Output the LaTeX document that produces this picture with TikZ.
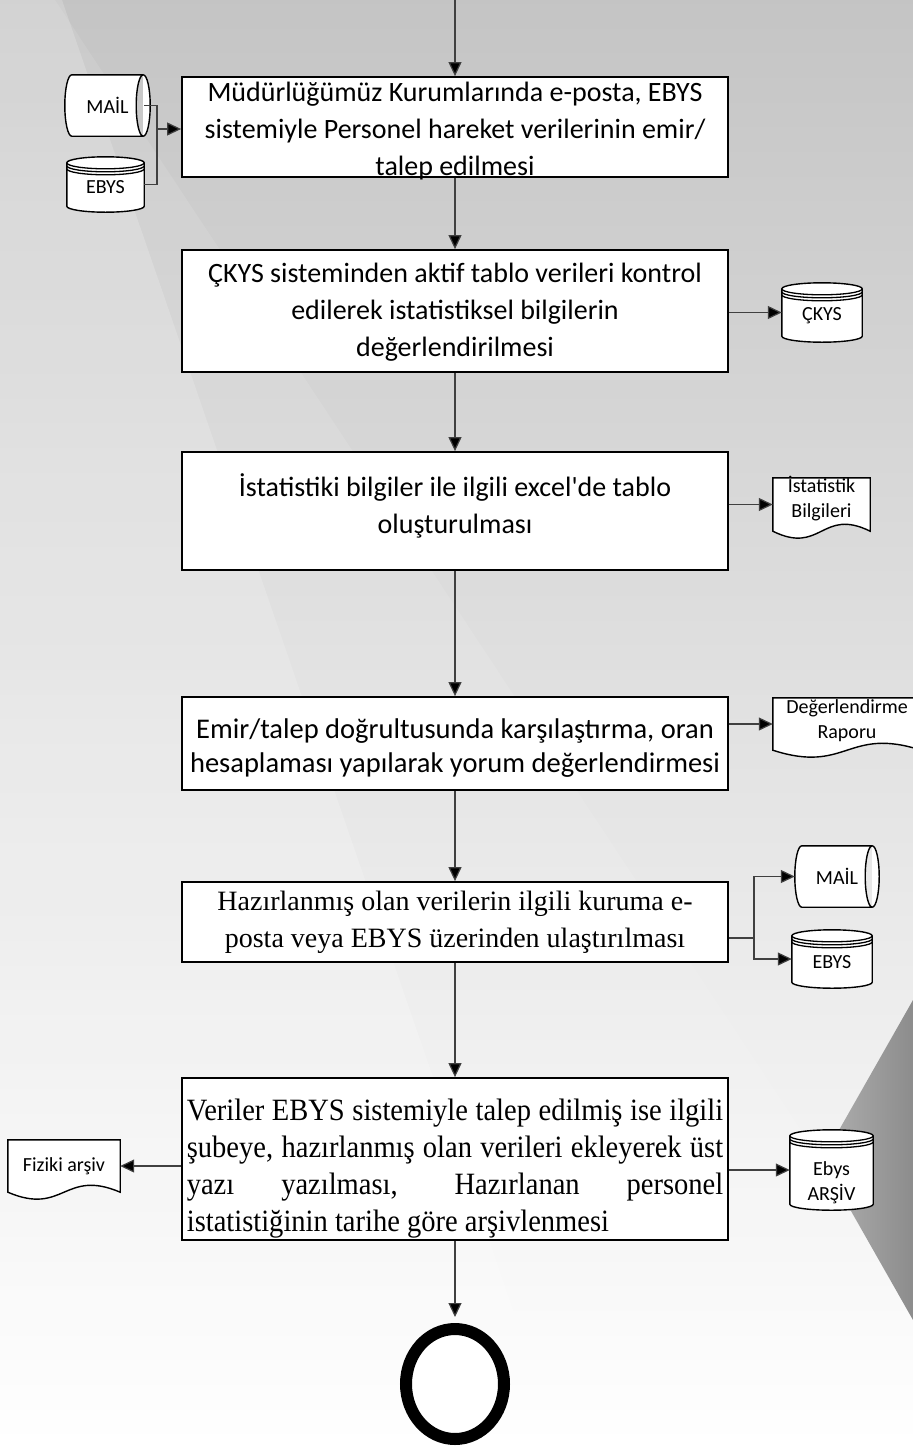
\documentclass[tikz,border=0pt]{standalone}
\usepackage{fontspec}
\usepackage{graphicx}
\setmainfont{Carlito}
\newfontfamily\tnr{Liberation Serif}
\usetikzlibrary{arrows.meta,shapes.geometric,calc}

\pgfdeclarelayer{backdrop}
\pgfdeclarelayer{outline}
\pgfsetlayers{backdrop,outline,main}

% text helpers
\newcommand\dropby[2]{\raisebox{-#1}[\height][\depth]{#2}}
\newcommand\stack[1]{\begin{tabular}{@{}c@{}}#1\end{tabular}}
\newcommand\jline[1]{\makebox[583pt][s]{#1}}

\tikzset{
  procbox/.style={draw=black, line width=1.8pt, fill=white, minimum width=546pt,
    inner sep=0pt, align=center, font=\fontsize{28}{37}\selectfont},
  serifbox/.style={procbox, font=\tnr\fontsize{28}{37}\selectfont},
  flow/.style={draw=black!75, line width=1.2pt, -{Triangle[length=14pt,width=13pt,fill=black]}},
  link/.style={draw=black!75, line width=1.2pt},
  symbol/.style={inner sep=0pt, align=center, font=\fontsize{20}{25}\selectfont},
  outl/.style={draw=black, line width=1.4pt, fill=white},
}

% stored data: cylinder with stacked rings on top
\newcommand\storeshape[1]{%
  \begin{pgfonlayer}{outline}
    \path[outl] let \p1=(#1.north west), \p2=(#1.south east), \n1={(\x2-\x1)/2} in
      (\x1,\y1-6pt) arc[start angle=180,end angle=0,x radius=\n1*1pt,y radius=6pt]
      -- (\x2,\y2+6pt) arc[start angle=0,end angle=-180,x radius=\n1*1pt,y radius=6pt] -- cycle;
    \path[draw=black,line width=1.3pt] let \p1=(#1.north west), \p2=(#1.south east), \n1={(\x2-\x1)/2} in
      (\x1,\y1-6pt) arc[start angle=180,end angle=360,x radius=\n1*1pt,y radius=6pt]
      (\x1,\y1-9pt) arc[start angle=180,end angle=360,x radius=\n1*1pt,y radius=6pt]
      (\x1,\y1-12pt) arc[start angle=180,end angle=360,x radius=\n1*1pt,y radius=6pt];
  \end{pgfonlayer}}

% direct access storage: horizontal cylinder
\newcommand\diskshape[1]{%
  \begin{pgfonlayer}{outline}
    \path[outl] let \p1=(#1.north west), \p2=(#1.south east), \n1={(\y1-\y2)/2} in
      (\x1+7pt,\y1) -- (\x2-7pt,\y1) arc[start angle=90,end angle=-90,x radius=7pt,y radius=\n1*1pt]
      -- (\x1+7pt,\y2) arc[start angle=270,end angle=90,x radius=7pt,y radius=\n1*1pt] -- cycle
      (\x2-7pt,\y1) arc[start angle=90,end angle=270,x radius=7pt,y radius=\n1*1pt];
  \end{pgfonlayer}}

% document: rectangle with a wavy lower edge
\newcommand\docshape[1]{%
  \begin{pgfonlayer}{outline}
    \path[outl] let \p1=(#1.north west), \p2=(#1.south east),
        \p3=($(#1.south west)!0.5!(#1.south east)$) in
      (\x1,\y1) -- (\x2,\y1) -- (\x2,\y2)
      .. controls (\x3,\y2+24pt) and (\x3,\y2-24pt) .. (\x1,\y2) -- cycle;
  \end{pgfonlayer}}

\begin{document}
\begin{tikzpicture}[x=1pt,y=-1pt]
\useasboundingbox (0,0) rectangle (913,1446);
\clip (0,0) rectangle (913,1446);

% backdrop: grey-to-white fade with light and dark facets
\begin{pgfonlayer}{backdrop}
  \shade[top color=gray!46, bottom color=white] (0,0) rectangle (913,1446);
  \fill[white, opacity=0.18] (0,0) -- (62,0) -- (560,1446) -- (0,1446) -- cycle;
  \fill[white, opacity=0.10] (55,0) -- (913,1300) -- (913,1446) -- (0,1446) -- (0,0) -- cycle;
  \shade[left color=gray!62, right color=gray!90] (913,1000) -- (822,1160) -- (913,1320) -- cycle;
\end{pgfonlayer}

% process boxes
\node[procbox, minimum height=100pt] (b1) at (455,127)
  {\raisebox{-10pt}[0pt][0pt]{\stack{Müdürlüğümüz Kurumlarında e-posta, EBYS\\sistemiyle Personel hareket verilerinin emir/\\talep edilmesi}}};
\node[procbox, minimum height=122pt] (b2) at (455,311)
  {\dropby{1pt}{\stack{ÇKYS sisteminden aktif tablo verileri kontrol\\edilerek istatistiksel bilgilerin\\değerlendirilmesi}}};
\node[procbox, minimum height=118pt] (b3) at (455,511)
  {\dropby{-3pt}{\stack{İstatistiki bilgiler ile ilgili excel\textquotesingle de tablo\\oluşturulması}}};
\node[procbox, minimum height=93pt, font=\fontsize{28.5}{34}\selectfont] (b4) at (455,743.5)
  {\dropby{5pt}{\stack{Emir/talep doğrultusunda karşılaştırma, oran\\hesaplaması yapılarak yorum değerlendirmesi}}};
\node[serifbox, minimum height=80pt] (b5) at (455,922)
  {\stack{Hazırlanmış olan verilerin ilgili kuruma e-\\posta veya EBYS üzerinden ulaştırılması}};
\node[procbox, minimum height=162pt] (b6) at (455,1159)
  {\dropby{10pt}{\scalebox{0.92}[1]{\tnr\fontsize{31}{37}\selectfont
   \begin{tabular}{@{}l@{}}
   \jline{Veriler EBYS sistemiyle talep edilmiş ise ilgili}\\
   \jline{şubeye, hazırlanmış olan verileri ekleyerek üst}\\
   \jline{yazı yazılması, Hazırlanan personel}\\
   istatistiğinin tarihe göre arşivlenmesi
   \end{tabular}}}};

% terminator
\node[ellipse, draw=black, line width=12pt, fill=white, minimum width=98pt, minimum height=110pt, inner sep=0pt] (end) at (455,1384) {};

% data symbols
\node[symbol, minimum width=85pt, minimum height=61pt] (mailA) at (107.5,105.5) {MAİL};
\node[symbol, minimum width=77pt, minimum height=55pt] (ebysA) at (105.5,184.5) {\dropby{3pt}{EBYS}};
\node[symbol, minimum width=80pt, minimum height=59pt] (ckys) at (822,312.5) {\dropby{3pt}{ÇKYS}};
\node[symbol, minimum width=97pt, minimum height=53pt] (doc1) at (821.5,504.5) {\dropby{-5pt}{\stack{İstatistik\\Bilgileri}}};
\node[symbol, minimum width=148pt, minimum height=52pt] (doc2) at (847,724) {\dropby{-3pt}{\stack{Değerlendirme\\Raporu}}};
\node[symbol, minimum width=84pt, minimum height=61pt] (mailB) at (837,876.5) {MAİL};
\node[symbol, minimum width=80pt, minimum height=58pt] (ebysB) at (832,959) {\dropby{3pt}{EBYS}};
\node[symbol, minimum width=112pt, minimum height=52pt] (doc3) at (64,1166) {Fiziki arşiv};
\node[symbol, minimum width=83pt, minimum height=80pt] (ebysC) at (831.5,1170) {\dropby{13pt}{\stack{Ebys\\ARŞİV}}};

\diskshape{mailA}
\storeshape{ebysA}
\storeshape{ckys}
\docshape{doc1}
\docshape{doc2}
\diskshape{mailB}
\storeshape{ebysB}
\docshape{doc3}
\storeshape{ebysC}

% main flow
\coordinate (start) at (455,0);
\draw[flow] (start) -- (b1.north);
\draw[flow] (b1.south) -- (b2.north);
\draw[flow] (b2.south) -- (b3.north);
\draw[flow] (b3.south) -- (b4.north);
\draw[flow] (b4.south) -- (b5.north);
\draw[flow] (b5.south) -- (b6.north);
\draw[flow] (b6.south) -- ([yshift=6pt]end.north);

% inputs to the first step
\coordinate (jA) at (157,129);
\draw[link] ([xshift=-6pt]mailA.east) -| (jA);
\draw[link] (ebysA.east) -| (jA);
\draw[flow] (jA) -- (jA -| b1.west);

% outputs
\draw[flow] (b2.east |- ckys.west) -- (ckys.west);
\draw[flow] (b3.east |- doc1.west) -- (doc1.west);
\draw[flow] (b4.east |- doc2.west) -- (doc2.west);
\coordinate (jB) at (754,938);
\draw[link] (b5.east |- jB) -- (jB);
\draw[flow] (jB) |- (mailB.west);
\draw[flow] (jB) |- (ebysB.west);
\draw[flow] (b6.west |- doc3.east) -- (doc3.east);
\draw[flow] (b6.east |- ebysC.west) -- (ebysC.west);
\end{tikzpicture}
\end{document}
